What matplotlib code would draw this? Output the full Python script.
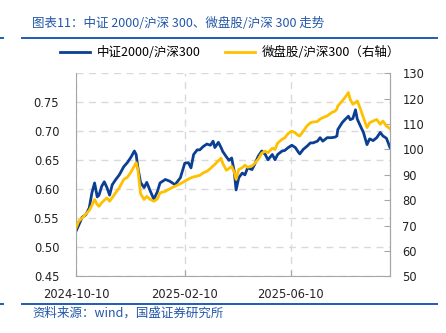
import pandas as pd
import matplotlib
matplotlib.use('Agg')
import matplotlib.pyplot as plt
import matplotlib.dates as mdates
from matplotlib.lines import Line2D

# values
dates = ['2024-10-10', '2024-10-13', '2024-10-17', '2024-10-21', '2024-10-25', '2024-10-28',
         '2024-10-31', '2024-11-03', '2024-11-05', '2024-11-08', '2024-11-11', '2024-11-14',
         '2024-11-17', '2024-11-20', '2024-11-24', '2024-11-28', '2024-12-03', '2024-12-07',
         '2024-12-11', '2024-12-15', '2024-12-17', '2024-12-19', '2024-12-22', '2024-12-26',
         '2024-12-29', '2025-01-02', '2025-01-06', '2025-01-10', '2025-01-13', '2025-01-19',
         '2025-01-24', '2025-01-30', '2025-02-05', '2025-02-10', '2025-02-14', '2025-02-17',
         '2025-02-20', '2025-02-24', '2025-02-27', '2025-03-03', '2025-03-07', '2025-03-11',
         '2025-03-14', '2025-03-16', '2025-03-20', '2025-03-23', '2025-03-25', '2025-03-29',
         '2025-04-01', '2025-04-04', '2025-04-07', '2025-04-09', '2025-04-12', '2025-04-16',
         '2025-04-19', '2025-04-22', '2025-04-27', '2025-04-30', '2025-05-04', '2025-05-08',
         '2025-05-12', '2025-05-15', '2025-05-20', '2025-05-23', '2025-05-26', '2025-05-31',
         '2025-06-03', '2025-06-07', '2025-06-11', '2025-06-15', '2025-06-18', '2025-06-20',
         '2025-06-24', '2025-06-28', '2025-07-02', '2025-07-05', '2025-07-10', '2025-07-13',
         '2025-07-16', '2025-07-21', '2025-07-26', '2025-07-30', '2025-08-01', '2025-08-02',
         '2025-08-07', '2025-08-10', '2025-08-14', '2025-08-16', '2025-08-19', '2025-08-22',
         '2025-08-24', '2025-08-27', '2025-08-31', '2025-09-04', '2025-09-07', '2025-09-11',
         '2025-09-15', '2025-09-19', '2025-09-22', '2025-09-26', '2025-09-30']

csi2000_hs300 = [0.528, 0.538, 0.552, 0.556, 0.568, 0.594, 0.611, 0.587, 0.590, 0.605,
                 0.613, 0.603, 0.590, 0.608, 0.617, 0.625, 0.639, 0.646, 0.655, 0.666,
                 0.660, 0.637, 0.612, 0.603, 0.612, 0.597, 0.583, 0.596, 0.611, 0.617,
                 0.614, 0.608, 0.620, 0.645, 0.646, 0.637, 0.660, 0.668, 0.668, 0.674,
                 0.678, 0.676, 0.683, 0.672, 0.681, 0.672, 0.665, 0.656, 0.650, 0.654,
                 0.630, 0.599, 0.620, 0.628, 0.625, 0.637, 0.634, 0.643, 0.657, 0.666,
                 0.660, 0.651, 0.660, 0.651, 0.660, 0.666, 0.667, 0.672, 0.676, 0.672,
                 0.665, 0.661, 0.669, 0.674, 0.680, 0.680, 0.683, 0.689, 0.683, 0.689,
                 0.689, 0.690, 0.692, 0.703, 0.715, 0.720, 0.726, 0.720, 0.722, 0.737,
                 0.721, 0.711, 0.698, 0.677, 0.687, 0.684, 0.689, 0.698, 0.692, 0.688,
                 0.672]

micro_hs300 = [69.1, 71.7, 73.0, 74.5, 76.0, 78.0, 80.3, 78.3, 77.6, 79.0,
               80.0, 80.9, 79.6, 81.0, 83.0, 84.9, 88.2, 89.0, 91.0, 93.5,
               94.8, 92.1, 82.5, 80.3, 81.5, 80.3, 79.6, 80.5, 82.9, 83.5,
               84.5, 85.5, 86.5, 87.5, 88.3, 88.8, 89.2, 89.5, 89.8, 90.8,
               91.4, 92.5, 93.5, 94.1, 95.6, 96.5, 94.5, 91.8, 92.5, 93.3,
               91.0, 88.2, 92.1, 92.8, 93.8, 93.0, 93.5, 94.5, 96.1, 98.5,
               99.3, 98.7, 100.5, 100.0, 102.5, 104.0, 104.6, 106.3, 107.2, 106.5,
               105.6, 105.3, 107.2, 109.2, 110.5, 110.8, 111.0, 112.0, 112.5, 113.2,
               114.5, 115.1, 116.0, 117.1, 119.1, 120.4, 122.4, 119.7, 117.8, 118.5,
               119.1, 116.5, 112.5, 108.6, 110.5, 111.2, 111.8, 109.9, 111.2, 109.2,
               108.2]

left_ticks = [0.45, 0.50, 0.55, 0.60, 0.65, 0.70, 0.75, 0.80]
right_ticks = [50, 60, 70, 80, 90, 100, 110, 120, 130]
x_ticks = ['2024-10-10', '2025-02-10', '2025-06-10']

cjk = ['Noto Sans CJK SC', 'DejaVu Sans']
blue = '#0B3F94'
gold = '#FFC000'
title_blue = '#2257A8'

x = pd.to_datetime(dates)

fig = plt.figure(figsize=(4.46, 3.33), dpi=100)
ax = fig.add_axes([0.1704, 0.170, 0.7040, 0.610])
ax2 = ax.twinx()

l1, = ax.plot(x, csi2000_hs300, color=blue, linewidth=2.0, label='中证2000/沪深300')
l2, = ax2.plot(x, micro_hs300, color=gold, linewidth=2.0, label='微盘股/沪深300（右轴）')

ax.set_xlim(pd.Timestamp('2024-10-10'), pd.Timestamp('2025-09-30'))
ax.set_ylim(0.45, 0.80)
ax2.set_ylim(50, 130)

ax.set_yticks(left_ticks)
ax.set_yticklabels(['%.2f' % v for v in left_ticks[:-1]] + [''])
ax2.set_yticks(right_ticks)
ax.set_xticks(pd.to_datetime(x_ticks))
ax.xaxis.set_major_formatter(mdates.DateFormatter('%Y-%m-%d'))

ax.grid(True, color='#D9D9D9', linestyle=(0, (5, 4)), linewidth=1.0)
ax.set_axisbelow(True)

for a in (ax, ax2):
    a.spines['top'].set_visible(False)
    for s in ('left', 'right', 'bottom'):
        a.spines[s].set_color('#A6A6A6')
ax2.spines['left'].set_visible(False)
ax2.spines['bottom'].set_visible(False)

ax.tick_params(axis='y', length=0, pad=12, labelsize=8.3, labelcolor='#222222')
ax.tick_params(axis='x', direction='in', length=4, color='#A6A6A6', pad=8,
               labelsize=8.3, labelcolor='#222222')
ax2.tick_params(axis='y', direction='in', length=4, color='#A6A6A6', pad=9,
                labelsize=8.3, labelcolor='#222222')

fig.legend(handles=[l1, l2], loc='center', bbox_to_anchor=(0.516, 0.841), ncol=2,
           frameon=False, prop={'family': cjk, 'size': 9}, handlelength=2.4,
           handletextpad=0.5, columnspacing=2.0, borderpad=0.2)

fig.text(0.072, 0.929, '图表11：中证 2000/沪深 300、微盘股/沪深 300 走势', family=cjk,
         fontsize=9, color=title_blue, style='italic', va='center', ha='left')
fig.text(0.072, 0.059, '资料来源：wind，国盛证券研究所', family=cjk,
         fontsize=9, color=title_blue, style='italic', va='center', ha='left')

# separator lines
for yy in (1 - 38 / 333, 1 - 304 / 333):
    fig.add_artist(Line2D([22 / 446, 437 / 446], [yy, yy], color='#1F5BB5', linewidth=1.4))
    fig.add_artist(Line2D([0, 3 / 446], [yy, yy], color='#1F5BB5', linewidth=1.4))

plt.savefig('out.png', dpi=100)
plt.close()
